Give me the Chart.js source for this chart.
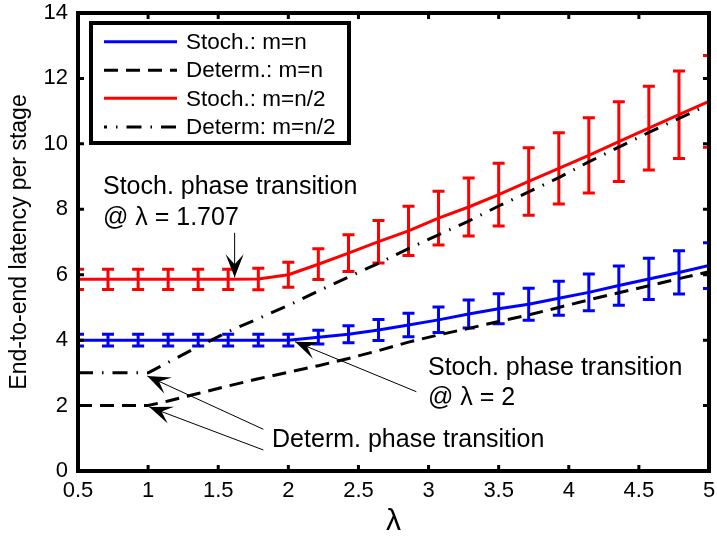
<!DOCTYPE html>
<html><head><meta charset="utf-8">
<script src="https://cdn.jsdelivr.net/npm/chart.js@4/dist/chart.umd.min.js"></script>
<style>html,body{margin:0;padding:0;background:#fff}#wrap{width:717px;height:541px}</style>
</head><body><div id="wrap"><canvas id="c" width="717" height="541"></canvas></div>
<script>
// ---- data ----
const lambda = [0.5, 0.714, 0.929, 1.143, 1.357, 1.571, 1.786, 2.0, 2.214, 2.429, 2.643, 2.857, 3.071, 3.286, 3.5, 3.714, 3.929, 4.143, 4.357, 4.571, 4.786, 5.0];
const stochN = [4.0, 4.0, 4.0, 4.0, 4.0, 4.0, 4.0, 4.0, 4.09, 4.18, 4.31, 4.46, 4.62, 4.80, 4.96, 5.10, 5.28, 5.46, 5.67, 5.87, 6.07, 6.28];
const stochNErr = [0.18, 0.18, 0.18, 0.18, 0.18, 0.18, 0.18, 0.18, 0.21, 0.26, 0.32, 0.36, 0.39, 0.43, 0.46, 0.49, 0.52, 0.56, 0.60, 0.63, 0.66, 0.70];
const stochHalf = [5.86, 5.86, 5.86, 5.86, 5.86, 5.86, 5.87, 6.0, 6.32, 6.66, 7.01, 7.34, 7.73, 8.07, 8.45, 8.85, 9.25, 9.65, 10.07, 10.48, 10.89, 11.3];
const stochHalfErr = [0.31, 0.31, 0.31, 0.31, 0.31, 0.31, 0.33, 0.38, 0.47, 0.56, 0.65, 0.75, 0.82, 0.89, 0.96, 1.03, 1.09, 1.15, 1.22, 1.28, 1.34, 1.40];
const detLambda = [0.5, 1.0, 1.143, 1.357, 1.571, 1.786, 2.0, 2.214, 2.429, 2.643, 2.857, 3.071, 3.286, 3.5, 3.714, 3.929, 4.143, 4.357, 4.571, 4.786, 5.0];
const determN = [2.0, 2.0, 2.14, 2.37, 2.60, 2.82, 3.02, 3.22, 3.44, 3.68, 3.94, 4.16, 4.36, 4.57, 4.77, 5.0, 5.23, 5.45, 5.66, 5.88, 6.09];
const determHalf = [3.0, 3.0, 3.32, 3.80, 4.26, 4.66, 5.06, 5.50, 5.93, 6.35, 6.80, 7.22, 7.64, 8.10, 8.53, 8.97, 9.45, 9.90, 10.35, 10.78, 11.2];
const seriesLabels = ['Stoch.: m=n', 'Determ.: m=n', 'Stoch.: m=n/2', 'Determ: m=n/2'];
const xTitle = '\u03bb';
const yTitle = 'End-to-end latency per stage';

// annotations (text anchors and arrows in data coordinates)
const notes = [
  {x: 0.678, y: 8.48, text: 'Stoch. phase transition'},
  {x: 0.678, y: 7.52, text: '@ \u03bb = 1.707'},
  {x: 2.996, y: 2.93, text: 'Stoch. phase transition'},
  {x: 2.996, y: 2.02, text: '@ \u03bb = 2'},
  {x: 1.884, y: 0.74, text: 'Determ. phase transition'}
];
const arrows = [
  {from: [1.617, 7.28], to: [1.617, 5.92]},
  {from: [2.913, 2.424], to: [2.048, 3.952]},
  {from: [1.822, 1.275], to: [0.994, 2.904]},
  {from: [1.822, 0.642], to: [1.009, 1.956]}
];

const FONT = '"Liberation Sans", Arial, Helvetica, sans-serif';
Chart.defaults.font.family = FONT;
Chart.defaults.color = '#000';

const pts = (xs, ys) => xs.map((x, i) => ({x: x, y: ys[i]}));

const errorBars = {
  id: 'errorBars',
  afterDatasetDraw(chart, args) {
    const ds = chart.data.datasets[args.index];
    if (!ds.err) return;
    const {ctx, chartArea: a, scales: {x, y}} = chart;
    ctx.save();
    ctx.beginPath(); ctx.rect(a.left, a.top, a.right - a.left, a.bottom - a.top); ctx.clip();
    ctx.strokeStyle = ds.borderColor; ctx.lineWidth = 3; ctx.lineCap = 'butt'; ctx.setLineDash([]);
    ds.data.forEach((p, i) => {
      const e = ds.err[i];
      const px = x.getPixelForValue(p.x);
      const y1 = y.getPixelForValue(p.y + e), y2 = y.getPixelForValue(p.y - e);
      ctx.beginPath();
      ctx.moveTo(px, y1 - 1.5); ctx.lineTo(px, y2 + 1.5);
      ctx.moveTo(px - 6, y1); ctx.lineTo(px + 6, y1);
      ctx.moveTo(px - 6, y2); ctx.lineTo(px + 6, y2);
      ctx.stroke();
    });
    ctx.restore();
  }
};

const frame = {
  id: 'frame',
  afterDatasetsDraw(chart) {
    const {ctx, chartArea: a, scales: {x, y}} = chart;
    ctx.save();
    ctx.strokeStyle = '#000'; ctx.setLineDash([]);
    ctx.lineWidth = 3;
    const tl = 6;
    ctx.beginPath();
    x.ticks.forEach(t => {
      const px = x.getPixelForValue(t.value);
      ctx.moveTo(px, a.bottom); ctx.lineTo(px, a.bottom - tl);
      ctx.moveTo(px, a.top); ctx.lineTo(px, a.top + tl);
    });
    y.ticks.forEach(t => {
      const py = y.getPixelForValue(t.value);
      ctx.moveTo(a.left, py); ctx.lineTo(a.left + tl, py);
      ctx.moveTo(a.right, py); ctx.lineTo(a.right - tl, py);
    });
    ctx.stroke();
    ctx.lineWidth = 4;
    ctx.strokeRect(a.left, a.top, a.right - a.left, a.bottom - a.top);
    ctx.restore();
  }
};

function arrowHead(ctx, x0, y0, x1, y1) {
  const ang = Math.atan2(y1 - y0, x1 - x0);
  const L = 23, W = 9, N = 13;
  ctx.save();
  ctx.translate(x1, y1); ctx.rotate(ang);
  ctx.beginPath();
  ctx.moveTo(0, 0);
  ctx.lineTo(-L, -W);
  ctx.lineTo(-N, 0);
  ctx.lineTo(-L, W);
  ctx.closePath();
  ctx.fill();
  ctx.restore();
}

const overlay = {
  id: 'overlay',
  afterDraw(chart) {
    const {ctx, scales: {x, y}} = chart;
    ctx.save();
    // annotations
    ctx.fillStyle = '#000'; ctx.strokeStyle = '#000';
    ctx.font = '25px ' + FONT;
    ctx.textAlign = 'left'; ctx.textBaseline = 'alphabetic';
    notes.forEach(n => ctx.fillText(n.text, x.getPixelForValue(n.x), y.getPixelForValue(n.y)));
    ctx.lineWidth = 1; ctx.setLineDash([]);
    arrows.forEach(a => {
      const x0 = x.getPixelForValue(a.from[0]), y0 = y.getPixelForValue(a.from[1]);
      const x1 = x.getPixelForValue(a.to[0]), y1 = y.getPixelForValue(a.to[1]);
      ctx.beginPath(); ctx.moveTo(x0, y0); ctx.lineTo(x1, y1); ctx.stroke();
      arrowHead(ctx, x0, y0, x1, y1);
    });
    // legend
    const bx = 91, by = 23, bw = 258, bh = 120;
    ctx.fillStyle = '#fff';
    ctx.fillRect(bx, by, bw, bh);
    ctx.lineWidth = 4; ctx.strokeStyle = '#000';
    ctx.strokeRect(bx, by, bw, bh);
    const rows = [41.7, 70.2, 98.3, 127];
    ctx.font = '22.5px ' + FONT;
    ctx.textBaseline = 'middle';
    chart.data.datasets.forEach((ds, i) => {
      ctx.strokeStyle = ds.borderColor; ctx.lineWidth = 3;
      ctx.setLineDash(ds.borderDash || []);
      ctx.lineDashOffset = ds.legendDashOffset || 0;
      ctx.beginPath(); ctx.moveTo(104, rows[i]); ctx.lineTo(177, rows[i]); ctx.stroke();
      ctx.setLineDash([]);
      ctx.fillStyle = '#000';
      ctx.fillText(ds.label, 186, rows[i] + 1);
    });
    ctx.restore();
  }
};

new Chart(document.getElementById('c'), {
  type: 'line',
  data: {
    datasets: [
      {label: seriesLabels[0], data: pts(lambda, stochN), err: stochNErr, borderColor: '#0000ff', borderWidth: 3, pointRadius: 0, order: 4},
      {label: seriesLabels[1], data: pts(detLambda, determN), borderColor: '#000000', borderWidth: 3, borderDash: [14, 8], pointRadius: 0, order: 3},
      {label: seriesLabels[2], data: pts(lambda, stochHalf), err: stochHalfErr, borderColor: '#ff0000', borderWidth: 3, pointRadius: 0, order: 2},
      {label: seriesLabels[3], data: pts(detLambda, determHalf), borderColor: '#000000', borderWidth: 3, borderDash: [15, 9, 1.5, 9], legendDashOffset: 12, pointRadius: 0, order: 1}
    ]
  },
  options: {
    responsive: false,
    animation: false,
    devicePixelRatio: 1,
    layout: {padding: {left: 0, right: 8, top: 13, bottom: 0}},
    plugins: {legend: {display: false}, tooltip: {enabled: false}},
    elements: {line: {tension: 0, borderCapStyle: 'butt', borderJoinStyle: 'round'}},
    scales: {
      x: {
        type: 'linear', min: 0.5, max: 5,
        ticks: {stepSize: 0.5, padding: 7, font: {size: 22}, color: '#000', maxRotation: 0, callback: v => String(v)},
        grid: {display: false, drawTicks: false},
        border: {display: false},
        title: {display: true, text: xTitle, font: {size: 30, lineHeight: 1}, padding: {top: 0, bottom: 4}, color: '#000'},
        afterFit: s => { s.height = 70; s.paddingLeft = 0; s.paddingRight = 0; }
      },
      y: {
        type: 'linear', min: 0, max: 14,
        ticks: {stepSize: 2, padding: 10, font: {size: 22}, color: '#000', callback: v => String(v)},
        grid: {display: false, drawTicks: false},
        border: {display: false},
        title: {display: true, text: yTitle, font: {size: 23, lineHeight: 1.2}, padding: {top: 6, bottom: 0}, color: '#000'},
        afterFit: s => { s.width = 78; s.paddingTop = 0; s.paddingBottom = 0; }
      }
    }
  },
  plugins: [errorBars, frame, overlay]
});
</script>
</body></html>
